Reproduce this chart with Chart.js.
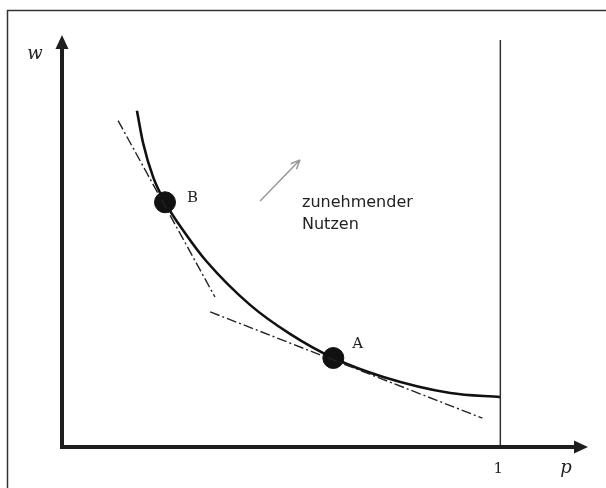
<!DOCTYPE html>
<html>
<head>
<meta charset="utf-8">
<script src="https://cdn.jsdelivr.net/npm/chart.js@4/dist/chart.umd.min.js"></script>
<style>
  body { margin: 0; background: #fff; }
  canvas { display: block; }
</style>
</head>
<body>
<canvas id="chart" width="606" height="488"></canvas>
<script>
// indifference curve (p, w)
const curveP = [0.171, 0.185, 0.208, 0.235, 0.281, 0.331, 0.429, 0.521, 0.619, 0.733, 0.886, 1.0];
const curveW = [0.816, 0.738, 0.655, 0.594, 0.519, 0.449, 0.345, 0.274, 0.216, 0.170, 0.131, 0.121];

// points on the curve
const pointLabels = ["B", "A"];
const pointP = [0.235, 0.619];
const pointW = [0.594, 0.216];

// tangent lines (dash-dot)
const tangentB_P = [0.128, 0.349];
const tangentB_W = [0.792, 0.364];
const tangentA_P = [0.338, 0.959];
const tangentA_W = [0.328, 0.070];

// vertical line at p = 1
const boundP = [1, 1];
const boundW = [0, 0.988];

// "increasing utility" arrow
const arrowP = [0.452, 0.543];
const arrowW = [0.597, 0.697];
const arrowText = ["zunehmender", "Nutzen"];

const xTicks = ["1"];
const axisTitles = { x: "p", y: "w" };

function pts(xs, ys) {
    return xs.map((x, i) => ({ x: x, y: ys[i] }));
}

const ink = "#1e1e1e";
// label offsets for B and A in px
const labelOffset = [[22, 0], [19, -10]];

const drawExtras = {
    id: "drawExtras",
    beforeDatasetsDraw(chart) {
        const ctx = chart.ctx;
        // frame (top and left edge)
        ctx.save();
        ctx.strokeStyle = "#333";
        ctx.lineWidth = 1.5;
        ctx.beginPath();
        ctx.moveTo(7.5, 488);
        ctx.lineTo(7.5, 10.5);
        ctx.lineTo(606, 10.5);
        ctx.stroke();
        ctx.restore();
    },
    afterDatasetsDraw(chart) {
        const ctx = chart.ctx;
        const xs = chart.scales.x, ys = chart.scales.y;
        const x0 = xs.getPixelForValue(0), y0 = ys.getPixelForValue(0);
        const xEnd = xs.getPixelForValue(xs.max), yEnd = ys.getPixelForValue(ys.max);
        ctx.save();
        ctx.fillStyle = ink;
        ctx.strokeStyle = ink;
        ctx.lineWidth = 4;
        // y axis
        ctx.beginPath();
        ctx.moveTo(x0, y0 + 2);
        ctx.lineTo(x0, yEnd + 10);
        ctx.stroke();
        ctx.beginPath();
        ctx.moveTo(x0, yEnd);
        ctx.lineTo(x0 - 6.5, yEnd + 14);
        ctx.lineTo(x0 + 6.5, yEnd + 14);
        ctx.closePath();
        ctx.fill();
        // x axis
        ctx.beginPath();
        ctx.moveTo(x0 - 2, y0);
        ctx.lineTo(xEnd - 10, y0);
        ctx.stroke();
        ctx.beginPath();
        ctx.moveTo(xEnd, y0);
        ctx.lineTo(xEnd - 14, y0 - 6.5);
        ctx.lineTo(xEnd - 14, y0 + 6.5);
        ctx.closePath();
        ctx.fill();

        // gray arrow
        const ax0 = xs.getPixelForValue(arrowP[0]), ay0 = ys.getPixelForValue(arrowW[0]);
        const ax1 = xs.getPixelForValue(arrowP[1]), ay1 = ys.getPixelForValue(arrowW[1]);
        const ang = Math.atan2(ay1 - ay0, ax1 - ax0);
        ctx.strokeStyle = "#999";
        ctx.lineWidth = 1.5;
        ctx.beginPath();
        ctx.moveTo(ax0, ay0);
        ctx.lineTo(ax1, ay1);
        ctx.moveTo(ax1, ay1);
        ctx.lineTo(ax1 - 10 * Math.cos(ang - 0.4), ay1 - 10 * Math.sin(ang - 0.4));
        ctx.moveTo(ax1, ay1);
        ctx.lineTo(ax1 - 10 * Math.cos(ang + 0.4), ay1 - 10 * Math.sin(ang + 0.4));
        ctx.stroke();

        // texts
        ctx.fillStyle = "#222";
        ctx.textAlign = "left";
        ctx.textBaseline = "alphabetic";
        ctx.font = "16px 'DejaVu Sans', sans-serif";
        ctx.fillText(arrowText[0], ax1 + 2, ay0 + 6);
        ctx.fillText(arrowText[1], ax1 + 2, ay0 + 28);

        ctx.font = "15px 'DejaVu Serif', serif";
        pointLabels.forEach((lab, i) => {
            ctx.fillText(lab, xs.getPixelForValue(pointP[i]) + labelOffset[i][0],
                ys.getPixelForValue(pointW[i]) + labelOffset[i][1]);
        });
        ctx.textAlign = "center";
        ctx.font = "15px 'DejaVu Serif', serif";
        ctx.fillText(xTicks[0], xs.getPixelForValue(Number(xTicks[0])) - 2, y0 + 26);
        ctx.font = "italic 18px 'DejaVu Serif', 'Liberation Serif', serif";
        ctx.fillText(axisTitles.x, xEnd - 22, y0 + 26);
        ctx.fillText(axisTitles.y, x0 - 27, yEnd + 24);
        ctx.restore();
    }
};

new Chart(document.getElementById("chart"), {
    type: "scatter",
    data: {
        datasets: [
            {
                data: pts(boundP, boundW),
                showLine: true,
                borderColor: "#333",
                borderWidth: 1.5,
                pointRadius: 0
            },
            {
                data: pts(tangentB_P, tangentB_W),
                showLine: true,
                borderColor: "#222",
                borderWidth: 1.4,
                borderDash: [10, 3, 2, 3],
                pointRadius: 0
            },
            {
                data: pts(tangentA_P, tangentA_W),
                showLine: true,
                borderColor: "#222",
                borderWidth: 1.4,
                borderDash: [10, 3, 2, 3],
                pointRadius: 0
            },
            {
                data: pts(curveP, curveW),
                showLine: true,
                borderColor: "#111",
                borderWidth: 2.6,
                cubicInterpolationMode: "monotone",
                pointRadius: 0
            },
            {
                data: pts(pointP, pointW),
                showLine: false,
                backgroundColor: "#111",
                borderColor: "#111",
                pointRadius: 10.5
            }
        ]
    },
    options: {
        responsive: false,
        animation: false,
        layout: { padding: { left: 62, right: 18, top: 35, bottom: 41 } },
        plugins: { legend: { display: false }, tooltip: { enabled: false } },
        scales: {
            x: { type: "linear", min: 0, max: 1.2, display: false },
            y: { type: "linear", min: 0, max: 1, display: false }
        }
    },
    plugins: [drawExtras]
});
</script>
</body>
</html>
